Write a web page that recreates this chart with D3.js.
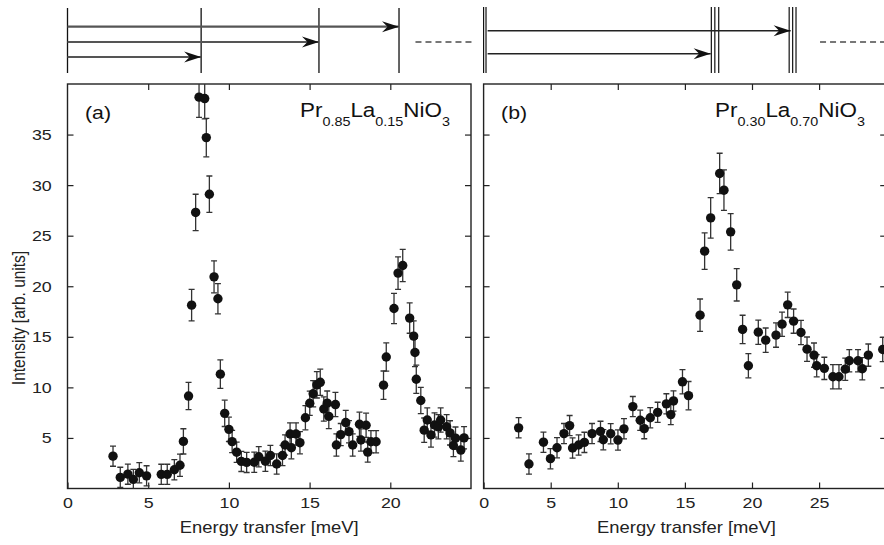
<!DOCTYPE html>
<html><head><meta charset="utf-8">
<script src="https://cdn.jsdelivr.net/npm/d3@7"></script>
<style>
html,body{margin:0;padding:0;background:#fff;}
svg{display:block;font-family:"Liberation Sans",Arial,Helvetica,sans-serif;}
</style></head>
<body>
<script>
// ---------- DATA ----------
// Panel (a) Pr0.85La0.15NiO3
const energyA = [2.82,3.27,3.74,4.08,4.45,4.9,5.81,6.18,6.62,6.97,7.18,7.5,7.69,7.94,8.15,8.5,8.6,8.79,9.08,9.32,9.47,9.74,10.0,10.2,10.48,10.77,11.1,11.57,11.85,12.26,12.57,12.96,13.32,13.48,13.79,13.87,14.16,14.4,14.74,15.01,15.22,15.45,15.66,15.88,16.09,16.19,16.6,16.66,16.93,17.24,17.44,17.67,18.09,18.18,18.5,18.6,18.8,19.12,19.58,19.75,20.23,20.48,20.77,21.2,21.45,21.53,21.61,21.89,22.1,22.29,22.52,22.74,22.98,23.12,23.49,23.7,23.91,24.04,24.37,24.57];
const intensityA = [3.2,1.1,1.42,0.9,1.56,1.25,1.4,1.4,1.85,2.3,4.66,9.14,18.13,27.3,38.7,38.56,34.7,29.1,20.93,18.76,11.31,7.43,5.85,4.64,3.59,2.68,2.58,2.6,3.14,2.7,3.26,2.42,3.26,4.3,5.39,4.03,5.39,4.53,7.0,8.43,9.37,10.25,10.5,7.86,8.44,7.13,8.3,4.3,5.33,6.52,5.62,4.3,6.35,4.8,6.25,3.6,4.63,4.62,10.22,13.0,17.8,21.3,22.05,16.85,15.07,13.45,10.8,8.7,5.77,6.77,5.3,6.28,6.1,6.77,6.1,5.5,4.25,4.98,3.8,5.01];
const errorA = [1.0,1.0,1.0,1.0,1.0,1.0,1.0,1.0,1.0,1.1,1.25,1.35,1.56,1.8,2.0,2.0,1.9,1.8,1.58,1.5,1.4,1.3,1.2,1.1,1.0,1.0,1.0,1.0,1.0,1.0,1.0,1.0,1.0,1.0,1.1,1.1,1.1,1.1,1.2,1.2,1.3,1.3,1.3,1.2,1.2,1.2,1.2,1.1,1.1,1.2,1.1,1.1,1.2,1.1,1.2,1.0,1.1,1.1,1.4,1.4,1.5,1.6,1.6,1.5,1.5,1.4,1.4,1.3,1.2,1.2,1.2,1.2,1.2,1.2,1.2,1.2,1.1,1.1,1.1,1.1];

// Panel (b) Pr0.30La0.70NiO3
const energyB = [2.61,3.38,4.46,4.98,5.47,5.99,6.41,6.63,7.08,7.51,8.08,8.71,8.92,9.47,10.01,10.46,11.12,11.67,11.97,12.42,12.97,13.62,13.95,14.15,14.82,15.27,16.13,16.47,16.92,17.59,17.91,18.41,18.86,19.3,19.73,20.47,21.02,21.79,22.24,22.66,23.1,23.65,24.1,24.62,24.82,25.39,26.03,26.48,26.95,27.25,27.9,28.22,28.67,29.74];
const intensityB = [6.0,2.42,4.58,2.95,4.03,5.43,6.22,4.0,4.3,4.56,5.43,5.65,4.82,5.42,4.79,5.9,8.1,6.75,5.92,7.0,7.53,8.37,7.31,8.66,10.55,9.18,17.14,23.47,26.76,31.15,29.5,25.38,20.14,15.73,12.14,15.46,14.67,15.17,16.25,18.16,16.55,15.43,13.78,13.19,12.14,11.88,11.05,11.05,11.8,12.63,12.63,11.84,13.19,13.75];
const errorB = [1.0,1.0,1.0,1.0,1.0,1.0,1.0,1.0,1.0,1.0,1.0,1.0,1.0,1.0,1.0,1.0,1.0,1.0,1.0,1.0,1.0,1.0,1.0,1.0,1.2,1.4,1.6,1.8,2.0,2.0,2.0,1.8,1.6,1.4,1.2,1.2,1.2,1.2,1.2,1.25,1.2,1.2,1.2,1.2,1.1,1.1,1.2,1.2,1.1,1.1,1.1,1.1,1.1,1.2];

// Tick values / labels
const yTicks = [5,10,15,20,25,30,35];
const xTicksA = [0,5,10,15,20];
const xTicksB = [0,5,10,15,20,25];
const xTitle = "Energy transfer [meV]";
const yTitle = "Intensity [arb. units]";
const panelLabels = ["(a)","(b)"];

// Level scheme (meV)
const levelsA = [0, 8.28, 15.58, 20.54];
const arrowsA = [20.54, 15.58, 8.28];
const dashA = [21.56, 25.05];
const levelsB = [0, 0.18, 16.97, 17.23, 17.52, 22.77, 23.03, 23.28];
const arrowStartB = 0.3;
const arrowsB = [22.88, 16.92];
const dashB = [25.07, 30];

// ---------- DRAW ----------
const W = 884, H = 545;
const SX = 1.15; // horizontal stretch of the glyphs in the reference
const svg = d3.select("body").append("svg").attr("width", W).attr("height", H);

const yTop = 84, yBot = 488.5;
const y = d3.scaleLinear().domain([0, 40]).range([yBot, yTop]);
const xA = d3.scaleLinear().domain([0, 25]).range([67.5, 471]);
const xB = d3.scaleLinear().domain([0, 30]).range([483.6, 886.2]);

const defs = svg.append("defs");
defs.append("marker").attr("id", "arrow")
  .attr("markerUnits","userSpaceOnUse")
  .attr("viewBox","-18 -6 19 12").attr("refX",0).attr("refY",0)
  .attr("markerWidth",19).attr("markerHeight",12).attr("orient","auto")
  .append("path").attr("d","M0,0 L-17,-5.5 L-11.5,0 L-17,5.5 Z").attr("fill","#111");

function panel(x, energy, inten, err, xticks, showY, label, formula, idx){
  const [x0, x1] = x.range();
  const clipId = "clip" + idx;
  defs.append("clipPath").attr("id", clipId).append("rect")
    .attr("x", x0).attr("y", yTop).attr("width", x1 - x0).attr("height", yBot - yTop);

  const g = svg.append("g");
  g.append("g").attr("transform", `translate(0,${yBot})`)
    .call(d3.axisBottom(x).tickValues(xticks).tickSizeOuter(0).tickSizeInner(-6).tickPadding(9).tickFormat(d3.format("d")));
  g.append("g").attr("transform", `translate(0,${yTop})`)
    .call(d3.axisTop(x).tickValues(xticks.filter(v=>v>0)).tickSizeOuter(0).tickSizeInner(-6).tickFormat(""));
  g.append("g").attr("transform", `translate(${x0},0)`)
    .call(d3.axisLeft(y).tickValues(yTicks).tickSizeOuter(0).tickSizeInner(-6).tickPadding(13.7).tickFormat(showY ? d3.format("d") : ""));
  g.append("g").attr("transform", `translate(${x1},0)`)
    .call(d3.axisRight(y).tickValues(yTicks).tickSizeOuter(0).tickSizeInner(-6).tickFormat(""));
  g.selectAll(".domain").remove();
  g.selectAll(".tick line").attr("stroke", "#222").attr("stroke-width", 1.2);
  g.selectAll(".tick text").attr("font-size", 15.5).attr("fill", "#222")
    .attr("font-family", '"Liberation Sans",Arial,sans-serif')
    .attr("transform", `scale(${SX},1)`);

  g.append("rect").attr("x", x0).attr("y", yTop).attr("width", x1 - x0).attr("height", yBot - yTop)
    .attr("fill","none").attr("stroke","#222").attr("stroke-width",1.4);

  const pts = energy.map((e,i)=>({e, v:inten[i], s:err[i]}));
  const dg = g.append("g").attr("clip-path", `url(#${clipId})`);
  const eb = dg.selectAll("g.eb").data(pts).join("g").attr("class","eb")
    .attr("stroke","#333").attr("stroke-width",1.3);
  eb.append("line").attr("x1",d=>x(d.e)).attr("x2",d=>x(d.e)).attr("y1",d=>y(d.v-d.s)).attr("y2",d=>y(d.v+d.s));
  eb.append("line").attr("x1",d=>x(d.e)-3).attr("x2",d=>x(d.e)+3).attr("y1",d=>y(d.v-d.s)).attr("y2",d=>y(d.v-d.s));
  eb.append("line").attr("x1",d=>x(d.e)-3).attr("x2",d=>x(d.e)+3).attr("y1",d=>y(d.v+d.s)).attr("y2",d=>y(d.v+d.s));
  dg.selectAll("circle").data(pts).join("circle")
    .attr("cx",d=>x(d.e)).attr("cy",d=>y(d.v)).attr("r",4.7).attr("fill","#111");

  g.append("text").attr("transform", `translate(${x0 + 17.5},118.5) scale(${SX},1)`)
    .attr("font-size", 18.5).attr("fill","#111").text(label);
  const t = g.append("text").attr("transform", `translate(${formula.x},117.3) scale(${SX},1)`)
    .attr("font-size", 19.5).attr("fill","#111");
  formula.parts.forEach(p=>{
    if (p.sub){
      t.append("tspan").attr("font-size", 12.5).attr("dy", 9).text(p.t);
    } else {
      t.append("tspan").attr("dy", p.after ? -9 : 0).text(p.t);
    }
  });

  const cx = idx === 0 ? (x0 + x1) / 2 : 686.5;
  svg.append("text").attr("transform", `translate(${cx},533) scale(${SX},1)`)
    .attr("text-anchor","middle").attr("font-size",16).attr("fill","#222").text(xTitle);
}

panel(xA, energyA, intensityA, errorA, xTicksA, true, panelLabels[0],
  {x: 300, parts:[{t:"Pr"},{t:"0.85",sub:true},{t:"La",after:true},{t:"0.15",sub:true},{t:"NiO",after:true},{t:"3",sub:true}]}, 0);
panel(xB, energyB, intensityB, errorB, xTicksB, false, panelLabels[1],
  {x: 715, parts:[{t:"Pr"},{t:"0.30",sub:true},{t:"La",after:true},{t:"0.70",sub:true},{t:"NiO",after:true},{t:"3",sub:true}]}, 1);

svg.append("text").attr("transform",`translate(25,318) rotate(-90) scale(1,${SX})`).attr("text-anchor","middle")
  .attr("font-size",15.5).attr("fill","#222").text(yTitle);

// ---------- level schemes ----------
const lv = svg.append("g");
const lvTop = 8, lvBot = 73;
lv.selectAll("line.la").data(levelsA).join("line").attr("class","la")
  .attr("x1",d=>xA(d)).attr("x2",d=>xA(d)).attr("y1",lvTop).attr("y2",lvBot)
  .attr("stroke","#111").attr("stroke-width",1.3);
const arrowYA = [26.7, 42, 57];
lv.selectAll("line.aa").data(arrowsA).join("line").attr("class","aa")
  .attr("x1",xA(0)).attr("x2",d=>xA(d)).attr("y1",(d,i)=>arrowYA[i]).attr("y2",(d,i)=>arrowYA[i])
  .attr("stroke","#555").attr("stroke-width",2.2).attr("marker-end","url(#arrow)");
lv.append("line").attr("x1",xA(dashA[0])).attr("x2",xA(dashA[1])).attr("y1",42).attr("y2",42)
  .attr("stroke","#777").attr("stroke-width",2).attr("stroke-dasharray","6,4");

lv.selectAll("line.lb").data(levelsB).join("line").attr("class","lb")
  .attr("x1",d=>xB(d)).attr("x2",d=>xB(d)).attr("y1",7).attr("y2",lvBot)
  .attr("stroke","#111").attr("stroke-width",1.2);
const arrowYB = [30.7, 53.7];
lv.selectAll("line.ab").data(arrowsB).join("line").attr("class","ab")
  .attr("x1",xB(arrowStartB)).attr("x2",d=>xB(d)).attr("y1",(d,i)=>arrowYB[i]).attr("y2",(d,i)=>arrowYB[i])
  .attr("stroke","#222").attr("stroke-width",1.4).attr("marker-end","url(#arrow)");
lv.append("line").attr("x1",xB(dashB[0])).attr("x2",xB(dashB[1])).attr("y1",42).attr("y2",42)
  .attr("stroke","#777").attr("stroke-width",2).attr("stroke-dasharray","6,4");
</script>
</body></html>
